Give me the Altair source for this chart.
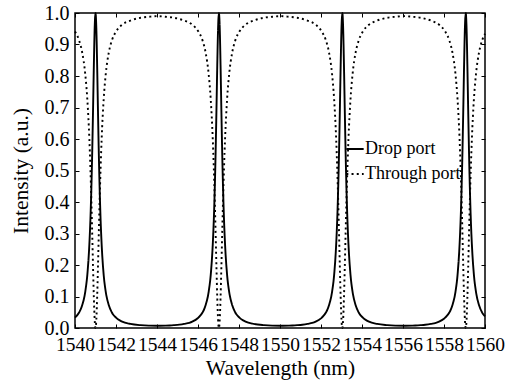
import altair as alt
import pandas as pd

# Wavelength samples (nm), denser around each resonance
wavelength = [
    1540.00, 1540.20, 1540.35, 1540.50, 1540.60, 1540.70, 1540.75, 1540.80, 1540.84, 1540.88, 1540.92, 1540.96, 1541.00,
    1541.04, 1541.08, 1541.12, 1541.16, 1541.20, 1541.25, 1541.30, 1541.40, 1541.50, 1541.65, 1541.80, 1542.00, 1542.30, 1542.70, 1543.20, 1543.60, 1544.01,
    1544.42, 1544.82, 1545.32, 1545.72, 1546.02, 1546.22, 1546.37, 1546.52, 1546.62, 1546.72, 1546.77, 1546.82, 1546.86, 1546.90, 1546.94, 1546.98, 1547.02,
    1547.06, 1547.10, 1547.14, 1547.18, 1547.22, 1547.27, 1547.32, 1547.42, 1547.52, 1547.67, 1547.82, 1548.02, 1548.32, 1548.72, 1549.22, 1549.62, 1550.03,
    1550.44, 1550.84, 1551.34, 1551.74, 1552.04, 1552.24, 1552.39, 1552.54, 1552.64, 1552.74, 1552.79, 1552.84, 1552.88, 1552.92, 1552.96, 1553.00, 1553.04,
    1553.08, 1553.12, 1553.16, 1553.20, 1553.24, 1553.29, 1553.34, 1553.44, 1553.54, 1553.69, 1553.84, 1554.04, 1554.34, 1554.74, 1555.24, 1555.64, 1556.05,
    1556.46, 1556.86, 1557.36, 1557.76, 1558.06, 1558.26, 1558.41, 1558.56, 1558.66, 1558.76, 1558.81, 1558.86, 1558.90, 1558.94, 1558.98, 1559.02, 1559.06,
    1559.10, 1559.14, 1559.18, 1559.22, 1559.26, 1559.31, 1559.36, 1559.46, 1559.56, 1559.71, 1559.86, 1560.00,
]

# Drop-port intensity (a.u.)
drop_port = [
    0.033, 0.049, 0.072, 0.115, 0.168, 0.265, 0.341, 0.448, 0.559, 0.692, 0.835, 0.953, 1.000,
    0.953, 0.835, 0.692, 0.559, 0.448, 0.341, 0.265, 0.168, 0.115, 0.072, 0.049, 0.033, 0.020, 0.013, 0.009, 0.0075, 0.0071,
    0.0075, 0.009, 0.013, 0.020, 0.033, 0.049, 0.072, 0.115, 0.168, 0.265, 0.341, 0.448, 0.559, 0.692, 0.835, 0.953, 1.000,
    0.953, 0.835, 0.692, 0.559, 0.448, 0.341, 0.265, 0.168, 0.115, 0.072, 0.049, 0.033, 0.020, 0.013, 0.009, 0.0075, 0.0071,
    0.0075, 0.009, 0.013, 0.020, 0.033, 0.049, 0.072, 0.115, 0.168, 0.265, 0.341, 0.448, 0.559, 0.692, 0.835, 0.953, 1.000,
    0.953, 0.835, 0.692, 0.559, 0.448, 0.341, 0.265, 0.168, 0.115, 0.072, 0.049, 0.033, 0.020, 0.013, 0.009, 0.0075, 0.0071,
    0.0075, 0.009, 0.013, 0.020, 0.033, 0.049, 0.072, 0.115, 0.168, 0.265, 0.341, 0.448, 0.559, 0.692, 0.835, 0.953, 1.000,
    0.953, 0.835, 0.692, 0.559, 0.448, 0.341, 0.265, 0.168, 0.115, 0.072, 0.049, 0.037,
]

# Through-port intensity (a.u.)
through_port = [
    0.941, 0.913, 0.875, 0.806, 0.727, 0.600, 0.510, 0.400, 0.299, 0.193, 0.096, 0.026, 0.000,
    0.026, 0.096, 0.193, 0.299, 0.400, 0.510, 0.600, 0.727, 0.806, 0.875, 0.913, 0.941, 0.963, 0.976, 0.985, 0.988, 0.990,
    0.988, 0.985, 0.976, 0.963, 0.941, 0.913, 0.875, 0.806, 0.727, 0.600, 0.510, 0.400, 0.299, 0.193, 0.096, 0.026, 0.000,
    0.026, 0.096, 0.193, 0.299, 0.400, 0.510, 0.600, 0.727, 0.806, 0.875, 0.913, 0.941, 0.963, 0.976, 0.985, 0.988, 0.990,
    0.988, 0.985, 0.976, 0.963, 0.941, 0.913, 0.875, 0.806, 0.727, 0.600, 0.510, 0.400, 0.299, 0.193, 0.096, 0.026, 0.000,
    0.026, 0.096, 0.193, 0.299, 0.400, 0.510, 0.600, 0.727, 0.806, 0.875, 0.913, 0.941, 0.963, 0.976, 0.985, 0.988, 0.990,
    0.988, 0.985, 0.976, 0.963, 0.941, 0.913, 0.875, 0.806, 0.727, 0.600, 0.510, 0.400, 0.299, 0.193, 0.096, 0.026, 0.000,
    0.026, 0.096, 0.193, 0.299, 0.400, 0.510, 0.600, 0.727, 0.806, 0.875, 0.913, 0.934,
]

series_names = ["Drop port", "Through port"]
x_ticks = list(range(1540, 1561, 2))
y_ticks = [round(0.1 * i, 1) for i in range(11)]

df = pd.concat([
    pd.DataFrame({"wavelength": wavelength, "intensity": drop_port, "port": series_names[0]}),
    pd.DataFrame({"wavelength": wavelength, "intensity": through_port, "port": series_names[1]}),
])

FONT = "'Liberation Serif', 'Times New Roman', 'DejaVu Serif', serif"
x_scale = alt.Scale(domain=[1540, 1560], nice=False, zero=False)
y_scale = alt.Scale(domain=[0, 1], nice=False)

lines = alt.Chart(df).mark_line(interpolate="monotone", color="black", strokeWidth=1.9).encode(
    x=alt.X("wavelength:Q", scale=x_scale,
            axis=alt.Axis(orient="bottom", values=x_ticks, format="d", offset=-4, tickSize=4,
                          domain=False, labelPadding=7, labelFlush=False, labelOverlap=False,
                          labelFontSize=19.5, title="Wavelength (nm)", titlePadding=4)),
    y=alt.Y("intensity:Q", scale=y_scale,
            axis=alt.Axis(orient="left", values=y_ticks, format=".1f", offset=-4, tickSize=4,
                          domain=False, labelPadding=6, labelFlush=False, labelOverlap=False,
                          labelFontSize=20, title="Intensity (a.u.)", titlePadding=12)),
    strokeDash=alt.StrokeDash(
        "port:N",
        scale=alt.Scale(domain=series_names, range=[[10, 0], [2, 3.2]]),
        legend=alt.Legend(title=None, orient="none", legendX=270, legendY=126,
                          symbolType="stroke", symbolSize=300, symbolStrokeWidth=1.9,
                          symbolStrokeColor="black", labelFont=FONT, labelFontSize=18,
                          labelColor="black", labelOffset=0, rowPadding=6),
    ),
    detail="port:N",
)

# Mirror ticks on the top and right edges
mirror = alt.Chart(df).mark_line(opacity=0).encode(
    x=alt.X("wavelength:Q", scale=x_scale,
            axis=alt.Axis(orient="top", values=x_ticks, offset=-4, tickSize=4,
                          domain=False, labels=False, title=None)),
    y=alt.Y("intensity:Q", scale=y_scale,
            axis=alt.Axis(orient="right", values=y_ticks, offset=-4, tickSize=4,
                          domain=False, labels=False, title=None)),
    detail="port:N",
)

chart = alt.layer(lines, mirror).properties(
    width=410, height=315,
    padding={"left": 75, "top": 13, "right": 31, "bottom": 61},
    autosize=alt.AutoSizeParams(type="none"),
    background="white",
).configure_view(
    stroke="black", strokeWidth=1.5,
).configure_axis(
    labelFont=FONT, labelColor="black",
    titleFont=FONT, titleFontSize=21.5, titleFontWeight="normal", titleColor="black",
    tickColor="black", tickWidth=1, grid=False,
)

chart.save("out.html", embed_options={"renderer": "svg", "actions": False})
